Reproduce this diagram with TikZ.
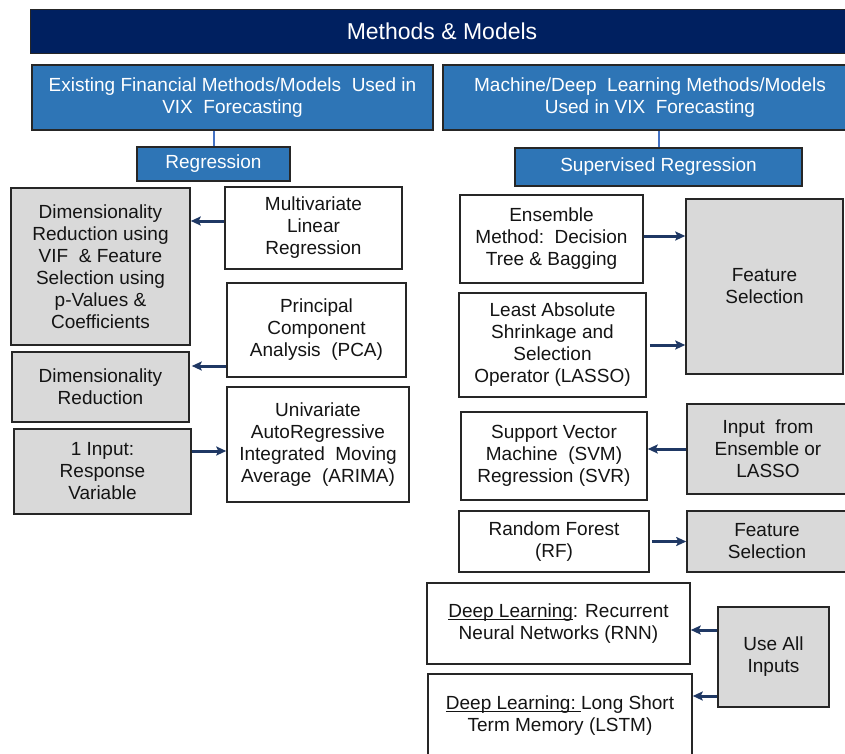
\documentclass[tikz,border=0pt]{standalone}
\usepackage{fontspec}
\setmainfont{Liberation Sans}
\usetikzlibrary{arrows.meta}
\definecolor{navy}{HTML}{002060}
\definecolor{hblue}{HTML}{2E75B6}
\definecolor{lblue}{HTML}{4472C4}
\definecolor{gfill}{HTML}{D9D9D9}
\definecolor{bord}{HTML}{262626}
\definecolor{txt}{HTML}{141414}
\definecolor{arrc}{HTML}{1F3864}
\newcommand\myul[1]{\setbox0\hbox{#1}\rlap{\rule[-2.5pt]{\wd0}{1pt}}\box0}
\tikzset{
  base/.style={draw=bord, line width=1.5pt, inner sep=0pt, align=center,
    font=\fontsize{19}{22}\selectfont, text=txt},
  wbox/.style={base, fill=white},
  gbox/.style={base, fill=gfill},
  hbox/.style={base, fill=hblue, text=white},
  tbox/.style={draw=bord, line width=1pt, fill=navy, text=white, inner sep=0pt,
    font=\fontsize{23}{26}\selectfont},
  arr/.style={draw=arrc, line width=3pt, -{Stealth[length=10pt,width=9pt,inset=2pt]}},
  conn/.style={draw=lblue, line width=2pt},
}
\begin{document}
\begin{tikzpicture}[x=1pt,y=-1pt]
\path[clip] (0,0) rectangle (845,754);
\fill[white] (0,0) rectangle (845,754);
% title
\node[tbox, minimum width=824pt, minimum height=44pt] (title) at (442,31.5) {Methods \& Models};
% headers
\node[hbox, minimum width=401pt, minimum height=65pt] (lhead) at (232.5,97.5)
  {Existing Financial Methods/Models\ \ Used in\\VIX\ \ Forecasting};
\node[hbox, minimum width=414pt, minimum height=65pt] (rhead) at (650,97.5)
  {Machine/Deep\ \ Learning Methods/Models\\Used in VIX\ \ Forecasting};
\node[hbox, minimum width=153pt, minimum height=34pt] (reg) at (213.5,164) {Regression};
\node[hbox, minimum width=287pt, minimum height=38pt] (sreg) at (658.5,167) {Supervised Regression};
\draw[conn] (reg.north) -- (reg.north |- lhead.south);
\draw[conn] (sreg.north) -- (sreg.north |- rhead.south);
% left column
\node[gbox, minimum width=179pt, minimum height=157pt] (dim1) at (100.5,266.5)
  {Dimensionality\\Reduction using\\VIF\ \ \& Feature\\Selection using\\p-Values \&\\Coefficients};
\node[wbox, minimum width=177pt, minimum height=82pt] (mlr) at (313.5,228)
  {Multivariate\\Linear\\Regression};
\node[wbox, minimum width=179pt, minimum height=94pt] (pca) at (316.5,330)
  {Principal\\Component\\Analysis\ \ (PCA)};
\node[gbox, minimum width=177pt, minimum height=70pt] (dim2) at (100.5,387)
  {Dimensionality\\Reduction};
\node[gbox, minimum width=177pt, minimum height=85pt] (inp1) at (102.5,471.5)
  {1 Input:\\Response\\Variable};
\node[wbox, minimum width=182pt, minimum height=115pt] (arima) at (318,444.5)
  {Univariate\\AutoRegressive\\Integrated\ \ Moving\\Average\ \ (ARIMA)};
\draw[arr] ([yshift=7pt]mlr.west) coordinate (a1) -- (a1 -| dim1.east);
\draw[arr] ([yshift=-36pt]pca.west) coordinate (a2) -- ([xshift=2pt]a2 -| dim2.east);
\draw[arr] ([yshift=20.5pt]inp1.east) coordinate (a3) -- (a3 -| arima.west);
% right column
\node[wbox, minimum width=183pt, minimum height=88pt] (ens) at (551.5,239)
  {Ensemble\\Method:\ \ Decision\\Tree \& Bagging};
\node[wbox, minimum width=187pt, minimum height=104pt] (lasso) at (552.5,345)
  {Least Absolute\\Shrinkage and\\Selection\\Operator (LASSO)};
\node[gbox, minimum width=157pt, minimum height=175pt] (fs1) at (764.5,286.5)
  {Feature\\Selection};
\node[wbox, minimum width=186pt, minimum height=88pt] (svm) at (554,456)
  {Support Vector\\Machine\ \ (SVM)\\Regression (SVR)};
\node[gbox, minimum width=162pt, minimum height=90pt] (inpf) at (768,449)
  {Input\ \ from\\Ensemble or\\LASSO};
\node[wbox, minimum width=190pt, minimum height=61pt] (rf) at (554,541.5)
  {Random Forest\\(RF)};
\node[gbox, minimum width=160pt, minimum height=61pt] (fs2) at (767,541.5)
  {Feature\\Selection};
\node[wbox, minimum width=263pt, minimum height=81pt] (rnn) at (558.5,623.5)
  {\myul{Deep Learning}: Recurrent\\Neural Networks (RNN)};
\node[wbox, minimum width=264pt, minimum height=84pt] (lstm) at (560,716)
  {\myul{Deep Learning:\ }Long Short\\Term Memory (LSTM)};
\node[gbox, minimum width=111pt, minimum height=100pt] (useall) at (773.5,657)
  {Use All\\Inputs};
\draw[arr] ([yshift=3pt]ens.east) coordinate (b1) -- (b1 -| fs1.west);
\draw[arr] ([xshift=3pt]lasso.east) -- (lasso.east -| fs1.west);
\draw[arr] (inpf.west) -- (inpf.west -| svm.east);
\draw[arr] ([xshift=2pt]rf.east) -- (rf.east -| fs2.west);
\draw[arr] ([yshift=27pt]useall.west) coordinate (b2) -- (b2 -| rnn.east);
\draw[arr] ([yshift=-39pt]useall.west) coordinate (b3) -- (b3 -| lstm.east);
\end{tikzpicture}
\end{document}
